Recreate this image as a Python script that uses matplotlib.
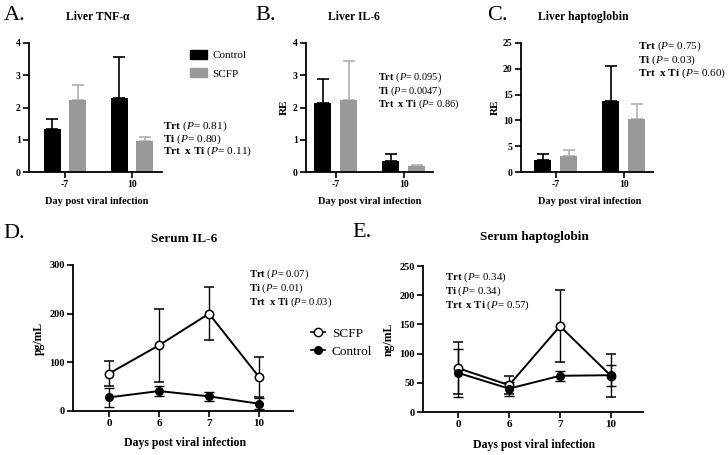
import numpy as np
import matplotlib
matplotlib.use("Agg")
import matplotlib.pyplot as plt
from matplotlib.lines import Line2D
from matplotlib.patches import Patch

plt.rcParams["font.family"] = ["Liberation Serif", "DejaVu Serif"]
plt.rcParams["mathtext.fontset"] = "custom"
plt.rcParams["mathtext.rm"] = "Liberation Serif"
plt.rcParams["mathtext.bf"] = "Liberation Serif:bold"
plt.rcParams["mathtext.it"] = "Liberation Serif:italic"

# Data
bar_days = ["-7", "10"]
groups = ["Control", "SCFP"]

tnf_ctrl = [1.33, 2.30]
tnf_ctrl_err = [0.32, 1.28]
tnf_scfp = [2.22, 0.95]
tnf_scfp_err = [0.48, 0.15]

il6_ctrl = [2.15, 0.33]
il6_ctrl_err = [0.74, 0.23]
il6_scfp = [2.22, 0.18]
il6_scfp_err = [1.21, 0.05]

hp_ctrl = [2.3, 13.8]
hp_ctrl_err = [1.2, 6.8]
hp_scfp = [3.1, 10.3]
hp_scfp_err = [1.2, 2.9]

line_days = ["0", "6", "7", "10"]

s_il6_scfp = [77, 135, 200, 70]
s_il6_scfp_err = [26, 75, 54, 41]
s_il6_ctrl = [28, 41, 30, 15]
s_il6_ctrl_err = [20, 10, 9, 11]

s_hp_scfp = [75, 46, 147, 62]
s_hp_scfp_err = [45, 15, 62, 37]
s_hp_ctrl = [67, 40, 62, 63]
s_hp_ctrl_err = [41, 12, 9, 18]

W, H = 728, 455
fig = plt.figure(figsize=(W / 100, H / 100), dpi=100)
fig.patch.set_facecolor("white")

BLACK = "#000000"
GRAY = "#999999"
GRAY_ERR = "#b0b0b0"


def px_axes(left, top, right, bottom):
    return fig.add_axes([left / W, 1 - bottom / H, (right - left) / W, (bottom - top) / H])


def ftext(x, y, s, **kw):
    fig.text(x / W, 1 - y / H, s, **kw)


def style(ax, size=7):
    for sp in ["top", "right"]:
        ax.spines[sp].set_visible(False)
    for sp in ["left", "bottom"]:
        ax.spines[sp].set_linewidth(1.3)
    ax.tick_params(axis="both", width=1.2, length=4, labelsize=size, pad=2)
    for lab in ax.get_xticklabels() + ax.get_yticklabels():
        lab.set_fontweight("bold")


def stats(x, y_mid, p1, p2, p3, size=7.5, spacing=0.95):
    lines = [
        r"$\mathbf{Trt}$ ($\mathit{P}$= " + p1 + ")",
        r"$\mathbf{Ti}$ ($\mathit{P}$= " + p2 + ")",
        r"$\mathbf{Trt\ \ x\ Ti}$ ($\mathit{P}$= " + p3 + ")",
    ]
    ftext(x, y_mid, "\n".join(lines), fontsize=size, va="center", ha="left",
          linespacing=spacing)


def bar_panel(box, ctrl, ctrl_err, scfp, scfp_err, ylim, yticks, xlim):
    ax = px_axes(*box)
    x = np.arange(len(bar_days))
    off, w = 0.19, 0.25
    ax.bar(x - off, ctrl, w, color=BLACK, zorder=2)
    ax.bar(x + off, scfp, w, color=GRAY, zorder=2)
    ax.errorbar(x - off, ctrl, yerr=[np.zeros(len(ctrl)), ctrl_err], fmt="none",
                ecolor=BLACK, elinewidth=1.2, capsize=4.5, capthick=1.2, zorder=1)
    ax.errorbar(x + off, scfp, yerr=[np.zeros(len(scfp)), scfp_err], fmt="none",
                ecolor=GRAY_ERR, elinewidth=1.2, capsize=4.5, capthick=1.2, zorder=1)
    ax.set_xticks(x)
    ax.set_xticklabels(bar_days)
    ax.set_xlim(*xlim)
    ax.set_ylim(*ylim)
    ax.set_yticks(yticks)
    style(ax, 7)
    return ax


def line_panel(box, scfp, scfp_err, ctrl, ctrl_err, ylim, yticks, xlim):
    ax = px_axes(*box)
    x = np.arange(len(line_days))
    ax.errorbar(x, scfp, yerr=scfp_err, fmt="-o", color=BLACK, mfc="white", mec=BLACK,
                ms=6, mew=1.1, lw=1.4, elinewidth=1.0, capsize=3.5, capthick=1.0, zorder=3)
    ax.errorbar(x, ctrl, yerr=ctrl_err, fmt="-o", color=BLACK, mfc=BLACK, mec=BLACK,
                ms=5.5, lw=1.4, elinewidth=1.0, capsize=3.5, capthick=1.0, zorder=3)
    ax.set_xticks(x)
    ax.set_xticklabels(line_days)
    ax.set_xlim(*xlim)
    ax.set_ylim(*ylim)
    ax.set_yticks(yticks)
    style(ax, 7.5)
    ax.tick_params(axis="x", labelsize=8)
    for lab in ax.get_xticklabels():
        lab.set_fontweight("bold")
    for ln in ax.lines:
        ln.set_clip_on(False)
    return ax


# A. Liver TNF-a
axA = bar_panel((29, 43, 162, 172), tnf_ctrl, tnf_ctrl_err, tnf_scfp, tnf_scfp_err,
                (0, 4), [0, 1, 2, 3, 4], (-0.54, 1.45))
# B. Liver IL-6
axB = bar_panel((306, 43, 433, 172), il6_ctrl, il6_ctrl_err, il6_scfp, il6_scfp_err,
                (0, 4), [0, 1, 2, 3, 4], (-0.44, 1.43))
axB.set_ylabel("RE", fontsize=8, fontweight="bold", labelpad=3)
# C. Liver haptoglobin
axC = bar_panel((521, 43, 653, 172), hp_ctrl, hp_ctrl_err, hp_scfp, hp_scfp_err,
                (0, 25), [0, 5, 10, 15, 20, 25], (-0.51, 1.43))
axC.set_ylabel("RE", fontsize=8, fontweight="bold", labelpad=2)

# D. Serum IL-6
axD = line_panel((73, 265, 293, 411), s_il6_scfp, s_il6_scfp_err, s_il6_ctrl, s_il6_ctrl_err,
                 (0, 300), [0, 100, 200, 300], (-0.72, 3.68))
axD.set_ylabel("pg/mL", fontsize=8.5, fontweight="bold", labelpad=3)
# E. Serum haptoglobin
axE = line_panel((423, 266, 643, 412), s_hp_scfp, s_hp_scfp_err, s_hp_ctrl, s_hp_ctrl_err,
                 (0, 250), [0, 50, 100, 150, 200, 250], (-0.69, 3.63))
axE.set_ylabel("ng/mL", fontsize=8.5, fontweight="bold", labelpad=3)

# Panel letters
for x, y, s in [(4, 15, "A."), (255, 15, "B."), (487, 15, "C."), (3, 234, "D."), (352, 233, "E.")]:
    ftext(x, y, s, fontsize=16, va="center", ha="left")

# Titles
ftext(98, 17, "Liver TNF-α", fontsize=8.5, fontweight="bold", ha="center", va="center")
ftext(354, 17, "Liver IL-6", fontsize=8.5, fontweight="bold", ha="center", va="center")
ftext(583, 17, "Liver haptoglobin", fontsize=8.5, fontweight="bold", ha="center", va="center")
ftext(184, 239, "Serum IL-6", fontsize=9.5, fontweight="bold", ha="center", va="center")
ftext(534, 237, "Serum haptoglobin", fontsize=9.5, fontweight="bold", ha="center", va="center")

# X labels
ftext(97, 201, "Day post viral infection", fontsize=7.5, fontweight="bold", ha="center", va="center")
ftext(370, 201, "Day post viral infection", fontsize=7.5, fontweight="bold", ha="center", va="center")
ftext(590, 201, "Day post viral infection", fontsize=7.5, fontweight="bold", ha="center", va="center")
ftext(185, 443, "Days post viral infection", fontsize=8.5, fontweight="bold", ha="center", va="center")
ftext(534, 445, "Days post viral infection", fontsize=8.5, fontweight="bold", ha="center", va="center")

# Stats text
stats(163, 139, "0.81", "0.80", "0.11", size=8.2, spacing=0.9)
stats(378, 91, "0.095", "0.0047", "0.86", size=7.5, spacing=1.0)
stats(638, 60, "0.75", "0.03", "0.60", size=8.1, spacing=1.02)
stats(249, 288, "0.07", "0.01", "0.03", size=7.7, spacing=1.08)
stats(445, 291, "0.34", "0.34", "0.57", size=7.8, spacing=1.06)

# Legend for bar charts
bar_handles = [Patch(facecolor=BLACK, edgecolor=BLACK), Patch(facecolor=GRAY, edgecolor=GRAY)]
fig.legend(bar_handles, groups, loc="upper left", bbox_to_anchor=(181 / W, 1 - 41 / H),
           frameon=False, fontsize=8, handlelength=1.5, handleheight=0.85,
           handletextpad=0.55, labelspacing=0.75, borderpad=0.3)

# Legend for line charts
line_handles = [
    Line2D([0], [0], color=BLACK, lw=1.2, marker="o", mfc="white", mec=BLACK, ms=6),
    Line2D([0], [0], color=BLACK, lw=1.2, marker="o", mfc=BLACK, mec=BLACK, ms=5.5),
]
fig.legend(line_handles, ["SCFP", "Control"], loc="upper left", bbox_to_anchor=(300 / W, 1 - 317 / H),
           frameon=False, fontsize=9.5, handlelength=1.1, handletextpad=0.5, labelspacing=0.45,
           borderpad=0.3)

fig.savefig("out.png", dpi=100)
